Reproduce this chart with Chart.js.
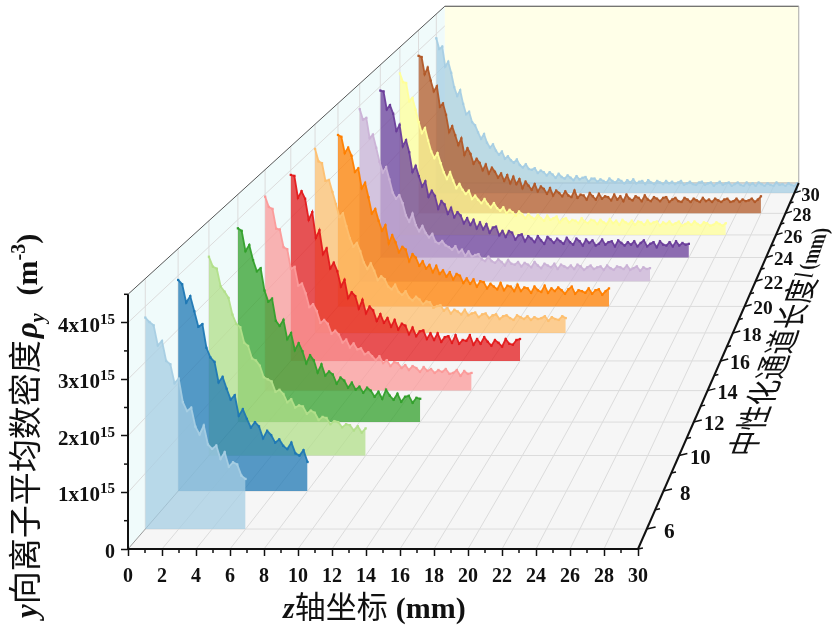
<!DOCTYPE html>
<html lang="zh">
<head>
<meta charset="UTF-8" />
<title>y向离子平均数密度</title>
<script src="https://cdn.jsdelivr.net/npm/chart.js"></script>
<style>
  html, body { margin: 0; padding: 0; background: #fff; }
  canvas { display: block; }
</style>
</head>
<body>
<canvas id="waterfall" width="837" height="628"></canvas>
<script>
// tick labels of the three axes
const zTicks = [0,2,4,6,8,10,12,14,16,18,20,22,24,26,28,30];
const rhoTicks = [0,1,2,3,4];
const lTicks = [6,8,10,12,14,16,18,20,22,24,26,28,30];

// sampling step along z, in mm
const zStep = 0.25;

// y ion density, in 1e15 m^-3, one array per channel length l (one row = 2 mm)
const rhoL6 = [3.80,
 3.72,3.66,3.30,3.38,3.02,2.96,2.62,2.70,
 2.28,2.12,2.18,1.84,1.70,1.86,1.52,1.44,
 1.50,1.26,1.38,1.12,1.20,1.16,0.96,0.90];
const rhoL8 = [3.92,
 3.84,3.50,3.62,3.34,3.05,3.10,2.66,2.48,
 2.40,2.02,2.12,1.90,1.70,1.78,1.40,1.52,
 1.34,1.18,1.28,1.20,0.98,1.12,1.04,0.90,
 0.96,0.84,0.78,0.90,0.70,0.66,0.76,0.54];
const rhoL10 = [3.81,
 3.62,3.58,3.24,3.14,3.02,2.70,2.52,2.46,
 2.16,2.10,1.86,1.82,1.72,1.50,1.46,1.42,
 1.22,1.26,1.18,1.02,1.08,0.92,0.96,0.94,
 0.80,0.86,0.82,0.68,0.74,0.72,0.60,0.66,
 0.64,0.54,0.60,0.58,0.48,0.56,0.44,0.52];
const rhoL12 = [3.83,
 3.78,3.38,3.50,3.20,2.98,3.04,2.60,2.38,
 2.44,2.00,1.90,2.02,1.64,1.76,1.42,1.56,
 1.40,1.16,1.32,1.22,0.98,1.14,0.92,1.00,
 0.94,0.76,0.88,0.82,0.68,0.78,0.64,0.70,
 0.58,0.68,0.62,0.50,0.60,0.46,0.64,0.52,
 0.44,0.56,0.40,0.50,0.52,0.38,0.48,0.46];
const rhoL14 = [3.95,
 3.74,3.70,3.30,3.28,2.92,2.88,2.48,2.52,
 2.14,2.18,1.98,1.70,1.76,1.62,1.38,1.44,
 1.36,1.16,1.22,1.14,0.98,1.04,0.88,0.96,
 0.84,0.86,0.74,0.78,0.70,0.62,0.70,0.56,
 0.62,0.50,0.58,0.56,0.46,0.52,0.42,0.50,
 0.46,0.38,0.48,0.40,0.44,0.36,0.42,0.38,
 0.44,0.34,0.36,0.42,0.30,0.40,0.34,0.36];
const rhoL16 = [3.90,
 3.88,3.42,3.56,3.40,2.96,3.12,2.58,2.74,
 2.24,2.36,1.94,2.06,1.88,1.56,1.70,1.32,
 1.44,1.36,1.10,1.28,1.00,1.14,1.06,0.84,
 0.98,0.80,0.90,0.72,0.86,0.66,0.78,0.74,
 0.56,0.70,0.52,0.62,0.64,0.46,0.58,0.44,
 0.58,0.40,0.50,0.52,0.38,0.54,0.36,0.44,
 0.42,0.54,0.34,0.46,0.36,0.50,0.40,0.32,
 0.44,0.38,0.30,0.46,0.36,0.34,0.44,0.46];
const rhoL18 = [3.97,
 3.70,3.66,3.28,3.30,3.04,2.78,2.50,2.58,
 2.30,2.04,1.86,1.94,1.76,1.52,1.38,1.50,
 1.34,1.14,1.22,1.16,1.00,0.94,1.04,0.88,
 0.82,0.90,0.76,0.70,0.78,0.72,0.62,0.68,
 0.66,0.54,0.58,0.60,0.48,0.54,0.42,0.50,
 0.46,0.40,0.50,0.38,0.42,0.44,0.34,0.40,
 0.42,0.32,0.38,0.40,0.30,0.36,0.38,0.32,
 0.28,0.38,0.34,0.30,0.36,0.28,0.34,0.30,
 0.32,0.36,0.26,0.34,0.30,0.28,0.36,0.32];
const rhoL20 = [3.80,
 3.76,3.40,3.52,3.34,2.98,3.06,2.62,2.74,
 2.42,2.06,2.16,1.90,1.68,1.80,1.40,1.58,
 1.42,1.20,1.32,1.26,1.00,1.16,1.08,0.90,
 1.00,0.84,0.92,0.76,0.90,0.72,0.80,0.66,
 0.76,0.60,0.72,0.68,0.52,0.62,0.50,0.60,
 0.44,0.56,0.54,0.40,0.50,0.44,0.38,0.52,
 0.36,0.46,0.44,0.34,0.48,0.34,0.42,0.40,
 0.30,0.44,0.36,0.32,0.46,0.30,0.40,0.34,
 0.42,0.36,0.28,0.38,0.44,0.28,0.36,0.34,
 0.30,0.40,0.28,0.36,0.38,0.26,0.34,0.40];
const rhoL22 = [3.92,
 3.68,3.72,3.26,3.34,3.04,2.72,2.48,2.60,
 2.32,2.02,1.88,1.96,1.78,1.50,1.36,1.54,
 1.28,1.14,1.26,1.10,1.00,1.08,0.90,0.86,
 0.92,0.82,0.78,0.72,0.80,0.66,0.72,0.58,
 0.68,0.56,0.60,0.62,0.50,0.46,0.56,0.46,
 0.42,0.50,0.44,0.36,0.48,0.40,0.38,0.44,
 0.34,0.42,0.38,0.32,0.44,0.36,0.30,0.40,
 0.36,0.32,0.40,0.28,0.38,0.34,0.30,0.36,
 0.28,0.38,0.34,0.26,0.32,0.36,0.28,0.32,
 0.34,0.26,0.36,0.30,0.26,0.34,0.32,0.28,
 0.36,0.26,0.30,0.34,0.24,0.32,0.28,0.30];
const rhoL24 = [3.90,
 3.88,3.46,3.56,3.36,2.96,3.10,2.60,2.74,
 2.46,2.00,2.14,1.90,1.66,1.78,1.42,1.56,
 1.44,1.14,1.32,1.24,1.02,1.16,0.94,1.06,
 0.98,0.80,0.92,0.76,0.88,0.68,0.82,0.66,
 0.78,0.58,0.70,0.72,0.52,0.62,0.48,0.62,
 0.58,0.42,0.52,0.54,0.38,0.50,0.44,0.36,
 0.50,0.40,0.32,0.48,0.42,0.34,0.44,0.38,
 0.32,0.46,0.36,0.30,0.44,0.38,0.28,0.42,
 0.34,0.40,0.28,0.32,0.42,0.30,0.36,0.38,
 0.26,0.40,0.34,0.28,0.36,0.30,0.38,0.26,
 0.34,0.40,0.26,0.32,0.36,0.24,0.38,0.30,
 0.28,0.36,0.26,0.38,0.28,0.34,0.30,0.32];
const rhoL26 = [3.87,
 3.66,3.64,3.20,3.28,3.00,2.70,2.44,2.56,
 2.26,2.00,1.84,1.96,1.72,1.50,1.34,1.50,
 1.30,1.12,1.22,1.08,0.98,1.06,0.86,0.94,
 0.84,0.76,0.86,0.74,0.66,0.76,0.64,0.58,
 0.66,0.52,0.60,0.54,0.46,0.56,0.50,0.40,
 0.50,0.42,0.38,0.48,0.40,0.34,0.46,0.36,
 0.40,0.44,0.30,0.38,0.40,0.30,0.36,0.34,
 0.28,0.40,0.32,0.28,0.36,0.34,0.26,0.36,
 0.30,0.26,0.38,0.28,0.34,0.24,0.36,0.30,
 0.26,0.34,0.24,0.32,0.30,0.24,0.34,0.26,
 0.30,0.32,0.22,0.30,0.26,0.32,0.24,0.28,
 0.32,0.22,0.26,0.30,0.24,0.32,0.26,0.22,
 0.30,0.28,0.22,0.24,0.30,0.26,0.22,0.28];
const rhoL28 = [3.87,
 3.84,3.42,3.58,3.26,3.00,3.12,2.62,2.70,
 2.42,2.00,2.14,1.92,1.68,1.84,1.44,1.60,
 1.46,1.22,1.34,1.24,1.06,1.20,0.98,1.12,
 1.02,0.88,0.98,0.80,0.94,0.74,0.90,0.72,
 0.84,0.62,0.78,0.68,0.58,0.72,0.54,0.66,
 0.60,0.48,0.62,0.44,0.56,0.50,0.42,0.54,
 0.44,0.40,0.56,0.38,0.46,0.44,0.34,0.50,
 0.42,0.34,0.48,0.36,0.42,0.40,0.32,0.46,
 0.34,0.42,0.30,0.46,0.36,0.32,0.42,0.38,
 0.30,0.44,0.34,0.30,0.40,0.36,0.30,0.38,
 0.40,0.28,0.34,0.38,0.30,0.28,0.38,0.34,
 0.28,0.36,0.32,0.28,0.38,0.30,0.34,0.28,
 0.36,0.32,0.28,0.34,0.36,0.28,0.30,0.36,
 0.28,0.34,0.30,0.32,0.36,0.28,0.34,0.42];
const rhoL30 = [3.89,
 3.62,3.68,3.18,3.30,3.02,2.66,2.44,2.58,
 2.24,1.98,2.04,1.78,1.70,1.52,1.36,1.48,
 1.26,1.14,1.22,1.06,0.96,1.04,0.86,0.92,
 0.82,0.76,0.84,0.70,0.64,0.72,0.60,0.58,
 0.62,0.50,0.56,0.52,0.44,0.52,0.46,0.38,
 0.48,0.40,0.36,0.44,0.38,0.32,0.42,0.34,
 0.38,0.40,0.28,0.36,0.36,0.28,0.34,0.30,
 0.26,0.36,0.30,0.26,0.34,0.30,0.24,0.32,
 0.26,0.34,0.24,0.28,0.30,0.22,0.32,0.26,
 0.22,0.30,0.26,0.22,0.30,0.24,0.28,0.22,
 0.26,0.30,0.20,0.24,0.28,0.22,0.20,0.26,
 0.28,0.20,0.24,0.26,0.18,0.24,0.28,0.20,
 0.24,0.26,0.18,0.22,0.26,0.20,0.18,0.26,
 0.20,0.24,0.18,0.26,0.22,0.18,0.24,0.20,
 0.18,0.26,0.20,0.22,0.18,0.24,0.20,0.18,
 0.24,0.20,0.18,0.26,0.20,0.18,0.22,0.20];

const seriesValues = [rhoL6,rhoL8,rhoL10,rhoL12,rhoL14,rhoL16,rhoL18,rhoL20,rhoL22,rhoL24,rhoL26,rhoL28,rhoL30];
const seriesColors = ['166,206,227','31,120,180','178,223,138','51,160,44','251,154,153','227,26,28','253,191,111','255,127,0','202,178,214','106,61,154','255,255,153','177,89,40','166,206,227'];

// oblique perspective: every point is pulled towards a vanishing point, given in front-plane units
const lMin = 5, lMax = 31, depthK = 0.441;
const vanishZ = 60.9, vanishRho = 21.13;
const zEnd = 30, rhoEnd = 4.5;

function shrink(l) { return 1 / (1 + depthK * (l - lMin) / (lMax - lMin)); }
function project(z, rho, l) {
  const s = shrink(l);
  return { x: vanishZ + (z - vanishZ) * s, y: vanishRho + (rho - vanishRho) * s };
}

const SERIF = '"Liberation Serif", "Times New Roman", serif';
const CJK = '"Noto Sans CJK SC", sans-serif';

const datasets = seriesValues.map((vals, i) => ({
  label: 'l = ' + lTicks[i] + ' mm',
  data: vals.map((v, k) => project(k * zStep, v, lTicks[i])),
  borderColor: 'rgba(' + seriesColors[i] + ',0.95)',
  backgroundColor: 'rgba(' + seriesColors[i] + ',0.75)',
  fill: { value: project(0, 0, lTicks[i]).y },
  borderWidth: 1.8,
  pointStyle: 'rect',
  pointRadius: 1.6,
  pointBorderWidth: 0,
  pointBackgroundColor: 'rgb(' + seriesColors[i] + ')',
  tension: 0
}));

// helper: draws several text pieces one after the other from the current origin
function drawRuns(ctx, runs) {
  let x = 0;
  runs.forEach(r => {
    ctx.font = r.font;
    ctx.fillText(r.text, x, r.dy || 0);
    x += ctx.measureText(r.text).width + (r.gap || 0);
  });
}

const box3d = {
  id: 'box3d',
  beforeDatasetsDraw(chart) {
    const { ctx, scales: { x, y } } = chart;
    const pt = (z, rho, l) => {
      const p = project(z, rho, l);
      return [x.getPixelForValue(p.x), y.getPixelForValue(p.y)];
    };
    const poly = (pts, color) => {
      ctx.beginPath();
      pts.forEach((p, i) => i ? ctx.lineTo(p[0], p[1]) : ctx.moveTo(p[0], p[1]));
      ctx.closePath();
      ctx.fillStyle = color;
      ctx.fill();
    };
    const seg = (a, b, color, w) => {
      ctx.beginPath();
      ctx.moveTo(a[0], a[1]);
      ctx.lineTo(b[0], b[1]);
      ctx.strokeStyle = color;
      ctx.lineWidth = w;
      ctx.stroke();
    };
    ctx.save();
    poly([pt(0,0,lMin), pt(zEnd,0,lMin), pt(zEnd,0,lMax), pt(0,0,lMax)], '#f6f6f6');
    poly([pt(0,0,lMin), pt(0,rhoEnd,lMin), pt(0,rhoEnd,lMax), pt(0,0,lMax)], '#f0fbfb');
    poly([pt(0,0,lMax), pt(0,rhoEnd,lMax), pt(zEnd,rhoEnd,lMax), pt(zEnd,0,lMax)], '#ffffe8');
    const grid = '#dcdcdc';
    zTicks.slice(1, -1).forEach(z => seg(pt(z,0,lMin), pt(z,0,lMax), grid, 1));
    lTicks.forEach(l => {
      seg(pt(0,0,l), pt(zEnd,0,l), grid, 1);
      seg(pt(0,0,l), pt(0,rhoEnd,l), grid, 1);
    });
    rhoTicks.slice(1).forEach(r => seg(pt(0,r,lMin), pt(0,r,lMax), grid, 1));
    seg(pt(0,rhoEnd,lMin), pt(0,rhoEnd,lMax), '#555', 1);
    seg(pt(0,rhoEnd,lMax), pt(zEnd,rhoEnd,lMax), '#444', 1);
    seg(pt(zEnd,rhoEnd,lMax), pt(zEnd,0,lMax), '#a8a8a8', 1);
    seg(pt(0,0,lMax), pt(zEnd,0,lMax), '#a8a8a8', 1);
    seg(pt(0,0,lMin), pt(0,0,lMax), '#999', 1);
    ctx.restore();
  },
  afterDatasetsDraw(chart) {
    const { ctx, scales: { x, y } } = chart;
    const px = p => [x.getPixelForValue(p.x), y.getPixelForValue(p.y)];
    const pt = (z, rho, l) => px(project(z, rho, l));
    const seg = (a, b, w) => {
      ctx.beginPath();
      ctx.moveTo(a[0], a[1]);
      ctx.lineTo(b[0], b[1]);
      ctx.strokeStyle = '#111';
      ctx.lineWidth = w;
      ctx.stroke();
    };
    ctx.save();
    // axis lines
    seg(pt(0,0,lMin), pt(zEnd,0,lMin), 2);
    seg(pt(0,0,lMin), pt(0,rhoEnd,lMin), 2);
    seg(pt(zEnd,0,lMin), pt(zEnd,0,lMax), 2);

    // minor ticks on z and rho
    zTicks.slice(0, -1).forEach(z => {
      const a = pt(z + 1, 0, lMin);
      seg(a, [a[0], a[1] + 4], 1.5);
    });
    rhoTicks.forEach(r => {
      const a = pt(0, r + 0.5, lMin);
      seg(a, [a[0] - 4, a[1]], 1.5);
    });

    // l axis, ticks and labels shrink with depth
    ctx.fillStyle = '#111';
    ctx.textBaseline = 'middle';
    ctx.textAlign = 'center';
    lTicks.forEach(l => {
      const s = shrink(l);
      const a = pt(zEnd, 0, l);
      seg(a, [a[0] + 9 * s, a[1] - 2], 1.5);
      const m = pt(zEnd, 0, l - 1);
      seg(m, [m[0] + 5 * s, m[1] - 1], 1.5);
      ctx.font = 'bold ' + (11.5 + 10 * s).toFixed(1) + 'px ' + SERIF;
      ctx.fillText(String(l), a[0] + 23 * s, a[1] + 3);
    });

    // rho labels with a raised exponent
    ctx.textAlign = 'right';
    ctx.textBaseline = 'alphabetic';
    rhoTicks.forEach(r => {
      const yy = y.getPixelForValue(r);
      const xx = x.getPixelForValue(0) - 13;
      if (r === 0) {
        ctx.font = 'bold 20px ' + SERIF;
        ctx.fillText('0', xx, yy + 9);
      } else {
        ctx.font = 'bold 15px ' + SERIF;
        ctx.fillText('15', xx, yy + 1);
        ctx.font = 'bold 21px ' + SERIF;
        ctx.fillText(r + 'x10', xx - 15, yy + 9);
      }
    });

    // titles
    ctx.textAlign = 'left';
    ctx.save();
    ctx.translate(283, 618);
    drawRuns(ctx, [
      { text: 'z', font: 'italic bold 30px ' + SERIF },
      { text: '轴坐标', font: '31px ' + CJK, gap: 8 },
      { text: '(mm)', font: 'bold 30px ' + SERIF }
    ]);
    ctx.restore();

    ctx.save();
    ctx.translate(37, 618);
    ctx.rotate(-Math.PI / 2);
    drawRuns(ctx, [
      { text: 'y', font: 'italic bold 31px ' + SERIF },
      { text: '向离子平均数密度', font: '33px ' + CJK, gap: 2 },
      { text: 'ρ', font: 'italic bold 31px ' + SERIF },
      { text: 'y', font: 'italic bold 20px ' + SERIF, dy: 7, gap: 18 },
      { text: '(m', font: 'bold 30px ' + SERIF },
      { text: '-3', font: 'bold 20px ' + SERIF, dy: -12 },
      { text: ')', font: 'bold 30px ' + SERIF }
    ]);
    ctx.restore();

    // right title lies on the plane of the l axis, so it is sheared
    ctx.save();
    ctx.transform(0.342, -0.94, 1.22, 0, 740, 456);
    ctx.textBaseline = 'middle';
    drawRuns(ctx, [
      { text: '中性化通道长度', font: '27px ' + CJK },
      { text: 'l', font: 'italic 22px ' + SERIF, gap: 3 },
      { text: '(mm)', font: 'bold 19px ' + SERIF }
    ]);
    ctx.restore();
    ctx.restore();
  }
};

new Chart(document.getElementById('waterfall'), {
  type: 'line',
  data: { datasets },
  plugins: [box3d],
  options: {
    responsive: false,
    animation: false,
    layout: { padding: { top: 4, right: 39, left: 0, bottom: 0 } },
    plugins: { legend: { display: false }, tooltip: { enabled: false } },
    scales: {
      x: {
        type: 'linear',
        min: 0,
        max: 670 / 17,
        afterBuildTicks: s => { s.ticks = zTicks.map(v => ({ value: v })); },
        afterFit: s => { s.height = 79; s.paddingLeft = 0; s.paddingRight = 0; },
        grid: { drawOnChartArea: false, tickLength: 7, tickColor: '#111', tickWidth: 1.5 },
        border: { display: false },
        ticks: {
          autoSkip: false, maxRotation: 0, padding: 9, color: '#111',
          font: { family: SERIF, weight: 'bold', size: 20 },
          callback: v => String(v)
        }
      },
      y: {
        type: 'linear',
        min: 0,
        max: 545 / 56.6,
        afterBuildTicks: s => { s.ticks = rhoTicks.map(v => ({ value: v })); },
        afterFit: s => { s.width = 128; s.paddingTop = 0; s.paddingBottom = 0; },
        grid: { drawOnChartArea: false, tickLength: 7, tickColor: '#111', tickWidth: 1.5 },
        border: { display: false },
        ticks: { display: false }
      }
    }
  }
});
</script>
</body>
</html>
